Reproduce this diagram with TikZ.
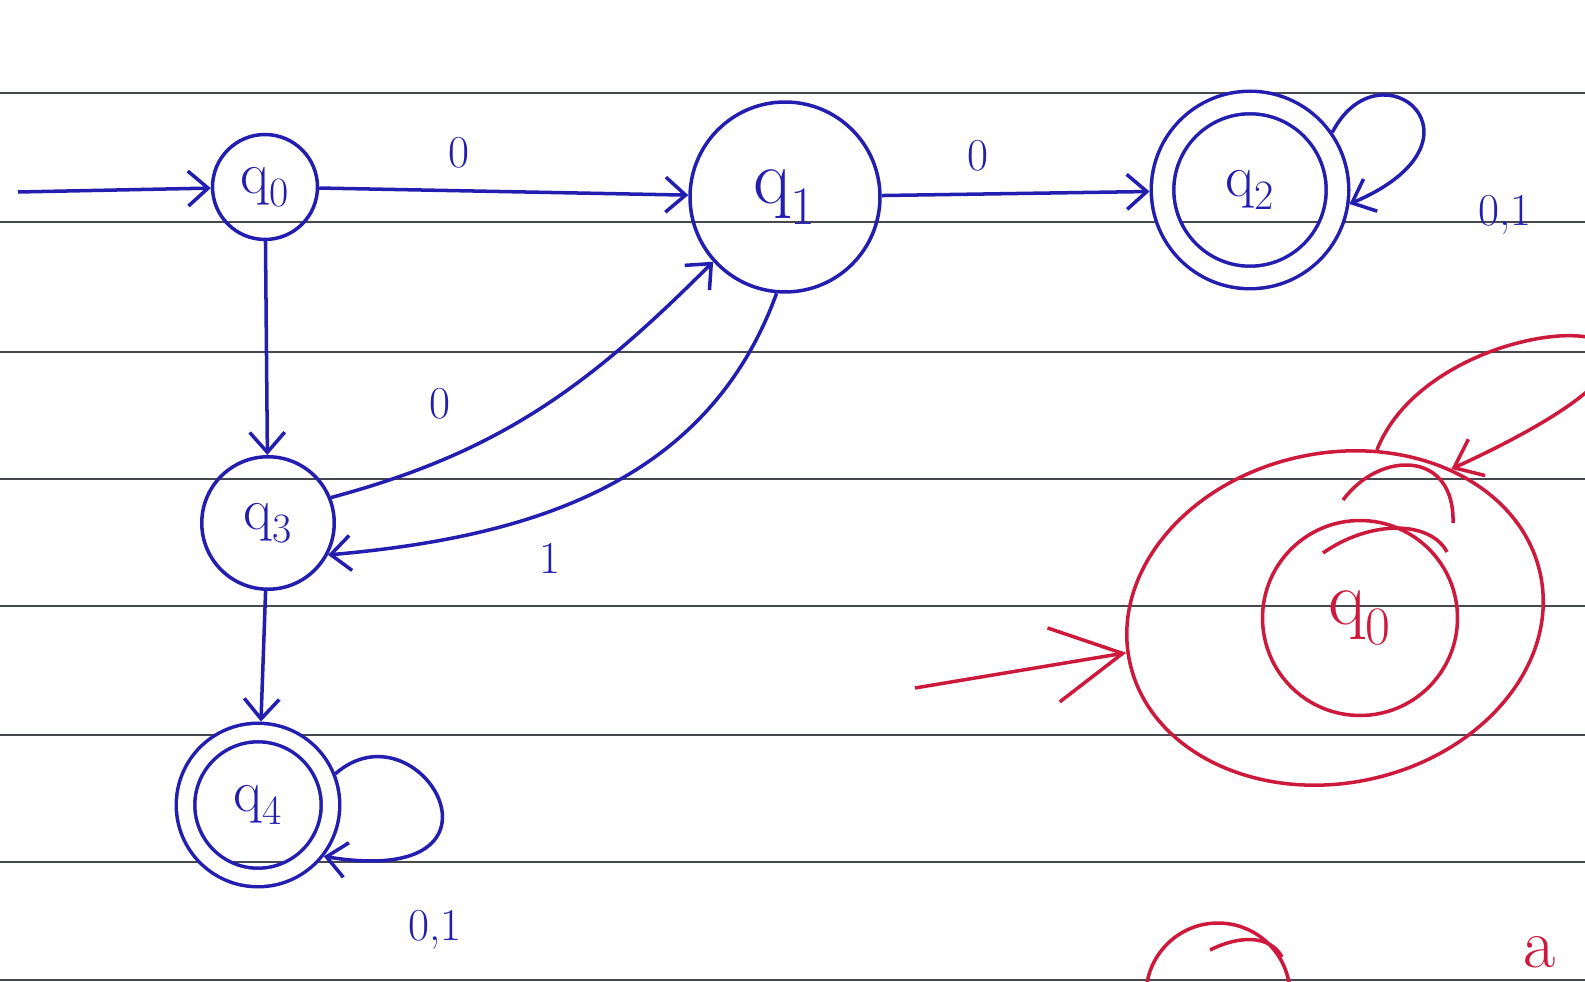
\documentclass[tikz,border=0pt]{standalone}
\usepackage{tikz}
\usetikzlibrary{arrows.meta, positioning, shapes.geometric}
\definecolor{inkblue}{RGB}{35,30,175}
\definecolor{inkred}{RGB}{205,25,60}
\definecolor{ruleline}{RGB}{70,72,80}

\begin{document}
\begin{tikzpicture}[
  x=0.02cm, y=0.02cm,
  qstate/.style={circle, draw=inkblue, line width=2pt, inner sep=0pt,
    minimum size=2.1cm, text=inkblue, font=\fontsize{34}{38}\selectfont},
  qfinal/.style={qstate, double, double distance=0.38cm, outer sep=0.26cm},
  arrow/.style={-{Straight Barb[length=4mm,width=7mm]}, inkblue, line width=2pt},
  lab/.style={inkblue, font=\fontsize{26}{30}\selectfont},
  redarrow/.style={-{Straight Barb[length=14mm,width=15mm]}, inkred, line width=2pt},
  redloop/.style={-{Straight Barb[length=5mm,width=8mm]}, inkred, line width=2pt},
  redink/.style={draw=inkred, line width=2pt},
  rline/.style={draw=ruleline, line width=1.6pt}
]
\useasboundingbox (0,0) rectangle (1585,-982);
\clip (0,0) rectangle (1585,-982);

% ruled lines of the page
\foreach \yy in {93,222,352,479,606,735,862,980}
  \draw[rline] (0,-\yy) -- (1585,-\yy);

% Blue automaton: states
\node[qstate] (q0) at (265,-187) {q\textsubscript{0}};
\node[qstate, minimum size=3.8cm, font=\fontsize{44}{48}\selectfont]
  (q1) at (785,-197) {q\textsubscript{1}};
\node[qfinal, minimum size=3.5cm] (q2) at (1250,-190) {q\textsubscript{2}};
\node[qstate, minimum size=2.65cm] (q3) at (268,-523) {q\textsubscript{3}};
\node[qfinal, minimum size=2.9cm, double distance=0.3cm, outer sep=0.22cm]
  (q4) at (258,-805) {q\textsubscript{4}};

% Blue automaton: transitions
\coordinate (start) at (18,-192);
\draw[arrow] (start) -- (q0);
\draw[arrow] (q0) -- node[lab, pos=0.38, above=0.3cm] (l01) {0} (q1);
\draw[arrow] (q1) -- node[lab, pos=0.36, above=0.3cm] (l12) {0} (q2);
\draw[arrow] (q2.35) .. controls (1380,-40) and (1500,-140) .. (q2.-8);
\node[lab] (l22) at (1505,-215) {0,1};

\draw[arrow] (q0) -- (q3);
\draw[arrow] (q3.22) to[out=15, in=225] (q1.222);
\draw[arrow] (q1.265) to[out=250, in=5] (q3.-28);
\node[lab] (l31) at (440,-404) {0};
\node[lab] (l13) at (550,-558) {1};

\draw[arrow] (q3) -- (q4);
\draw[arrow] (q4.22) .. controls (420,-700) and (530,-890) .. (q4.-38);
\node[lab] (l44) at (435,-930) {0,1};

% Red sketch
\node[ellipse, redink, minimum width=8.4cm, minimum height=6.6cm, rotate=12]
  (outer) at (1335,-618) {};
\node[circle, redink, inner sep=0pt, minimum size=3.9cm, text=inkred,
  font=\fontsize{44}{48}\selectfont] (inner) at (1360,-618) {q\textsubscript{0}};
\coordinate (rstart) at (915,-688);
\draw[redarrow] (rstart) -- (outer);
\draw[redloop] (outer.64) .. controls (1440,-290) and (1820,-300) .. (outer.40);
\draw[redink] (1343,-500) .. controls (1380,-450) and (1455,-450) .. (1453,-523);
\draw[redink] (1323,-553) .. controls (1370,-520) and (1430,-520) .. (1447,-552);

\node[circle, redink, minimum size=2.88cm] (rq) at (1218,-995) {};
\draw[redink] (1210,-950) .. controls (1240,-935) and (1270,-935) .. (1282,-957);
\node[text=inkred, font=\fontsize{40}{44}\selectfont] (ra) at (1540,-952) {a};
\end{tikzpicture}
\end{document}
